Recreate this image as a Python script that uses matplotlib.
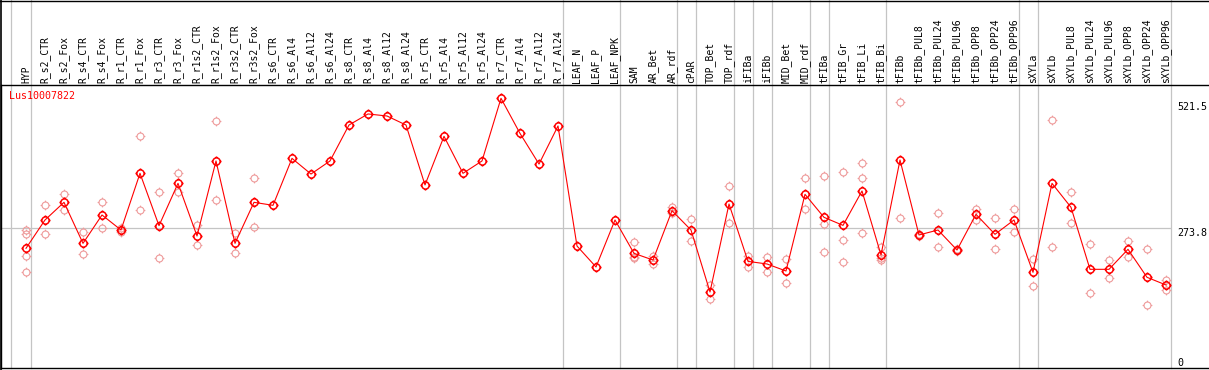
import matplotlib
matplotlib.use("Agg")
import matplotlib.pyplot as plt
from matplotlib.lines import Line2D
from matplotlib.path import Path

categories = [
    "HYP", "R_s2_CTR", "R_s2_Fox", "R_s4_CTR", "R_s4_Fox", "R_r1_CTR", "R_r1_Fox",
    "R_r3_CTR", "R_r3_Fox", "R_r1s2_CTR", "R_r1s2_Fox", "R_r3s2_CTR", "R_r3s2_Fox",
    "R_s6_CTR", "R_s6_Al4", "R_s6_Al12", "R_s6_Al24", "R_s8_CTR", "R_s8_Al4",
    "R_s8_Al12", "R_s8_Al24", "R_r5_CTR", "R_r5_Al4", "R_r5_Al12", "R_r5_Al24",
    "R_r7_CTR", "R_r7_Al4", "R_r7_Al12", "R_r7_Al24", "LEAF_N", "LEAF_P", "LEAF_NPK",
    "SAM", "AR_Bet", "AR_rdf", "cPAR", "TOP_Bet", "TOP_rdf", "iFIBa", "iFIBb",
    "MID_Bet", "MID_rdf", "tFIBa", "tFIB_Gr", "tFIB_Li", "tFIB_Bi", "tFIBb",
    "tFIBb_PUL8", "tFIBb_PUL24", "tFIBb_PUL96", "tFIBb_OPP8", "tFIBb_OPP24",
    "tFIBb_OPP96", "sXYLa", "sXYLb", "sXYLb_PUL8", "sXYLb_PUL24", "sXYLb_PUL96",
    "sXYLb_OPP8", "sXYLb_OPP24", "sXYLb_OPP96",
]

mean_values = [
    234.5, 290.2, 324.9, 244.3, 300.0, 270.5, 381.9, 279.0, 362.2, 258.7, 406.2,
    244.3, 324.9, 319.0, 411.3, 380.5, 406.2, 476.9, 498.6, 494.6, 476.9, 359.0,
    454.6, 381.9, 406.2, 529.4, 460.4, 400.1, 475.0, 239.0, 197.8, 290.2, 224.6,
    211.5, 308.5, 270.5, 148.6, 321.6, 208.8, 203.7, 189.9, 340.6, 295.4, 279.6,
    347.2, 221.4, 408.1, 260.7, 270.5, 231.2, 301.3, 262.0, 290.2, 187.3, 362.2,
    315.1, 193.2, 193.2, 232.5, 177.5, 162.4,
]

replicate_values = [
    [270.4, 262.0, 220.1, 187.3], [319.0, 262.0], [341.3, 309.2], [265.9, 223.3],
    [324.9, 274.4], [275.0, 266.0], [454.6, 309.2], [344.6, 214.8], [381.9, 344.6],
    [279.6, 240.3], [484.1, 328.9], [264.0, 224.6], [372.1, 275.8],
    [], [], [], [], [], [], [], [], [], [], [], [], [], [], [], [], [], [], [],
    [247.6, 218.1, 214.8], [220.1, 203.0], [316.4, 304.6], [291.5, 249.5],
    [162.4, 134.2], [356.3, 283.6], [220.1, 197.2], [216.8, 188.6], [212.8, 165.6],
    [372.1, 311.2], [376.7, 281.6, 226.5], [384.5, 250.2, 207.0],
    [402.2, 372.1, 264.0], [237.7, 214.8, 211.5], [521.5, 294.1], [262.0, 259.0],
    [303.1, 236.4], [233.0, 229.0], [311.8, 290.2], [294.1, 232.5], [311.8, 265.9],
    [213.5, 161.1], [486.1, 236.4], [344.6, 283.6], [242.3, 146.0], [210.9, 175.5],
    [248.9, 218.1], [232.5, 123.0], [172.2, 152.6],
]

# last sample of every group, a separator is drawn just after it
group_ends = [
    "HYP", "R_r7_Al24", "LEAF_NPK", "AR_rdf", "cPAR", "TOP_rdf", "iFIBa", "iFIBb",
    "MID_rdf", "tFIBa", "tFIB_Bi", "tFIBb_OPP96", "sXYLa", "sXYLb_OPP96",
]

axis_labels = [521.5, 273.8, 0]
gene_name = "Lus10007822"

W, H = 1209, 370
MONO = "DejaVu Sans Mono"


def target_marker():
    """Circle with four short ticks, like the original gene browser glyph."""
    circle = Path.unit_circle()
    ticks = Path(
        [(0, 1), (0, 1.4), (0, -1), (0, -1.4), (1, 0), (1.4, 0), (-1, 0), (-1.4, 0)],
        [Path.MOVETO, Path.LINETO] * 4,
    )
    return Path.make_compound_path(circle, ticks)


fig = plt.figure(figsize=(W / 100, H / 100), dpi=100)
ax = fig.add_axes([1 / W, 2 / H, 1207 / W, 283 / H])

x = list(range(len(categories)))
ax.set_xlim((1 - 26) / 19, (1208 - 26) / 19)
ax.set_ylim((367.6 - 368) / 0.5087, (367.6 - 85) / 0.5087)

marker = target_marker()
last = len(categories) - 1 + 0.25

# group separators run through the label header as well
for name in ["__start__"] + group_ends:
    pos = -0.8 if name == "__start__" else categories.index(name) + 0.25
    ax.axvline(pos, ymin=0, ymax=368 / 283, color="#c4c4c4", linewidth=0.9,
               clip_on=False, zorder=1)

ax.hlines(axis_labels[1], ax.get_xlim()[0], last, color="#c4c4c4", linewidth=0.9,
          zorder=1)

rep_x = [i for i, reps in enumerate(replicate_values) for _ in reps]
rep_y = [v for reps in replicate_values for v in reps]
ax.plot(rep_x, rep_y, linestyle="none", marker=marker, markersize=7.0,
        markerfacecolor="none", markeredgecolor="#ee9a9a", markeredgewidth=0.8,
        zorder=2)

ax.plot(x, mean_values, color="#ff0000", linewidth=0.8, marker=marker,
        markersize=7.3, markerfacecolor="none", markeredgecolor="#ff0000",
        markeredgewidth=1.1, zorder=3)

for i, name in enumerate(categories):
    ax.text(i, 1 + 2 / 283, name, rotation=90, ha="center", va="bottom",
            fontsize=7, family=MONO, transform=ax.get_xaxis_transform(),
            clip_on=False)

label_x = (1177 - 26) / 19
for value in axis_labels:
    ax.text(label_x, value, f"{value:g}" if value == 0 else f"{value:.1f}",
            ha="left", va="bottom" if value == 0 else "top", fontsize=7.2,
            family=MONO, clip_on=False)

ax.text(8.5 / 1207, (368 - 91) / 283, gene_name, color="#ff0000", ha="left",
        va="top", fontsize=7.2, family=MONO, transform=ax.transAxes)

ax.set_xticks([])
ax.set_yticks([])
ax.spines["right"].set_visible(False)
for side in ("left", "top", "bottom"):
    ax.spines[side].set_linewidth(1.0)

# outer frame of the header
fig.add_artist(Line2D([0, 1], [1 - 0.5 / H, 1 - 0.5 / H], color="black",
                      linewidth=1.0, transform=fig.transFigure))
fig.add_artist(Line2D([1 / W, 1 / W], [0, 1], color="black", linewidth=1.2,
                      transform=fig.transFigure))

fig.savefig("out.png", dpi=100)
